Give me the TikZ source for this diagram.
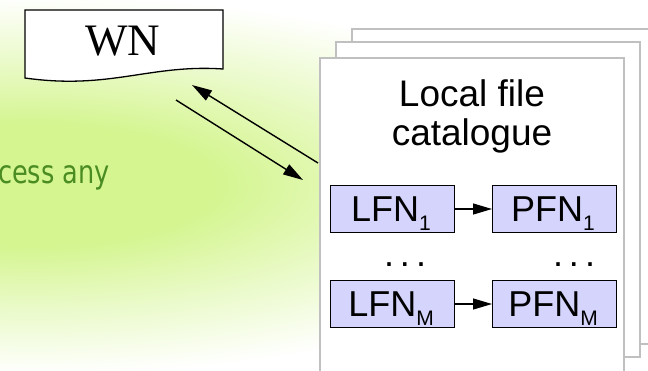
\documentclass[tikz,border=0pt]{standalone}
\usepackage{fontspec}
\setmainfont{Liberation Serif}
\newfontfamily\arialf{Liberation Sans}
\newfontfamily\tahomaf[FakeStretch=0.8]{DejaVu Sans}
\usetikzlibrary{arrows.meta}
\definecolor{glow}{HTML}{D4F590}
\definecolor{slidegreen}{HTML}{4A8C22}
\definecolor{pagegray}{HTML}{C0C0C0}
\definecolor{fnfill}{HTML}{D4D4FC}
\pgfdeclareradialshading{glowshade}{\pgfpoint{0bp}{0bp}}{color(0bp)=(glow); color(8bp)=(glow); color(16bp)=(glow!50!white); color(25bp)=(white); color(50bp)=(white)}
\tikzset{
  pagebox/.style={draw=pagegray, line width=1.8pt, fill=white, anchor=north west, inner sep=0pt},
  fnbox/.style={draw=black, line width=1pt, fill=fnfill, minimum width=124pt, minimum height=47pt, inner sep=0pt, anchor=north west},
  fntext/.style={font=\arialf\fontsize{36}{38}\selectfont},
  bigarrow/.style={line width=1.4pt, -{Triangle[length=20pt,width=11.5pt]}},
  smallarrow/.style={line width=1.2pt, -{Triangle[length=19pt,width=11pt]}}
}
\begin{document}
\begin{tikzpicture}[x=1pt,y=-1pt]
\useasboundingbox (0,0) rectangle (648,370);
\clip (0,0) rectangle (648,370);
% background
\fill[white] (0,0) rectangle (648,370);
\shade[shading=glowshade] (30,185) ellipse (580 and 190);
% text fragment
\node[anchor=base east, inner sep=0pt, text=slidegreen, font=\tahomaf\fontsize{32}{34}\selectfont] (cess) at (110,183) {cess any};
% WN document shape
\draw[line width=1.3pt, fill=white] (25,10) -- (223,10) -- (223,69)
  .. controls (150,64) and (110,90) .. (25,78) -- cycle;
\node[font=\fontsize{45}{48}\selectfont, inner sep=0pt, anchor=base] (wn) at (123,55) {WN};
% stacked pages
\node[pagebox, minimum width=309pt, minimum height=315pt] (back) at (351,28) {};
\node[pagebox, minimum width=304pt, minimum height=315pt] (middle) at (335,41) {};
\node[pagebox, minimum width=304pt, minimum height=330pt] (front) at (319,57) {};
% title
\node[font=\arialf\fontsize{37}{39}\selectfont, inner sep=0pt, anchor=base] (title1) at (472,106) {Local file};
\node[font=\arialf\fontsize{37}{39}\selectfont, inner sep=0pt, anchor=base] (title2) at (472,145) {catalogue};
% file name boxes
\node[fnbox] (lfn1) at (330,185) {};
\node[fnbox] (pfn1) at (492,185) {};
\node[fnbox] (lfnm) at (330,280) {};
\node[fnbox] (pfnm) at (492,280) {};
\node[fntext, anchor=base, inner sep=0pt] (tl1) at (391,221) {LFN\raisebox{-9pt}{\fontsize{21}{21}\selectfont 1}};
\node[fntext, anchor=base, inner sep=0pt] (tp1) at (553,221) {PFN\raisebox{-9pt}{\fontsize{21}{21}\selectfont 1}};
\node[fntext, anchor=base, inner sep=0pt] (tlm) at (391,316) {LFN\raisebox{-9pt}{\fontsize{21}{21}\selectfont M}};
\node[fntext, anchor=base, inner sep=0pt] (tpm) at (553,316) {PFN\raisebox{-9pt}{\fontsize{21}{21}\selectfont M}};
\node[fntext, anchor=base, inner sep=0pt] (dots1) at (405,266) {.\hspace{6pt}.\hspace{6pt}.};
\node[fntext, anchor=base, inner sep=0pt] (dots2) at (574,266) {.\hspace{6pt}.\hspace{6pt}.};
\draw[smallarrow] (lfn1.east) -- (pfn1.west);
\draw[smallarrow] (lfnm.east) -- (pfnm.west);
% arrows between WN and catalogue
\coordinate (a1s) at (318,163);
\coordinate (a1e) at (192,85);
\coordinate (a2s) at (176,100);
\coordinate (a2e) at (303,180);
\draw[bigarrow] (a1s) -- (a1e);
\draw[bigarrow] (a2s) -- (a2e);
\end{tikzpicture}
\end{document}
